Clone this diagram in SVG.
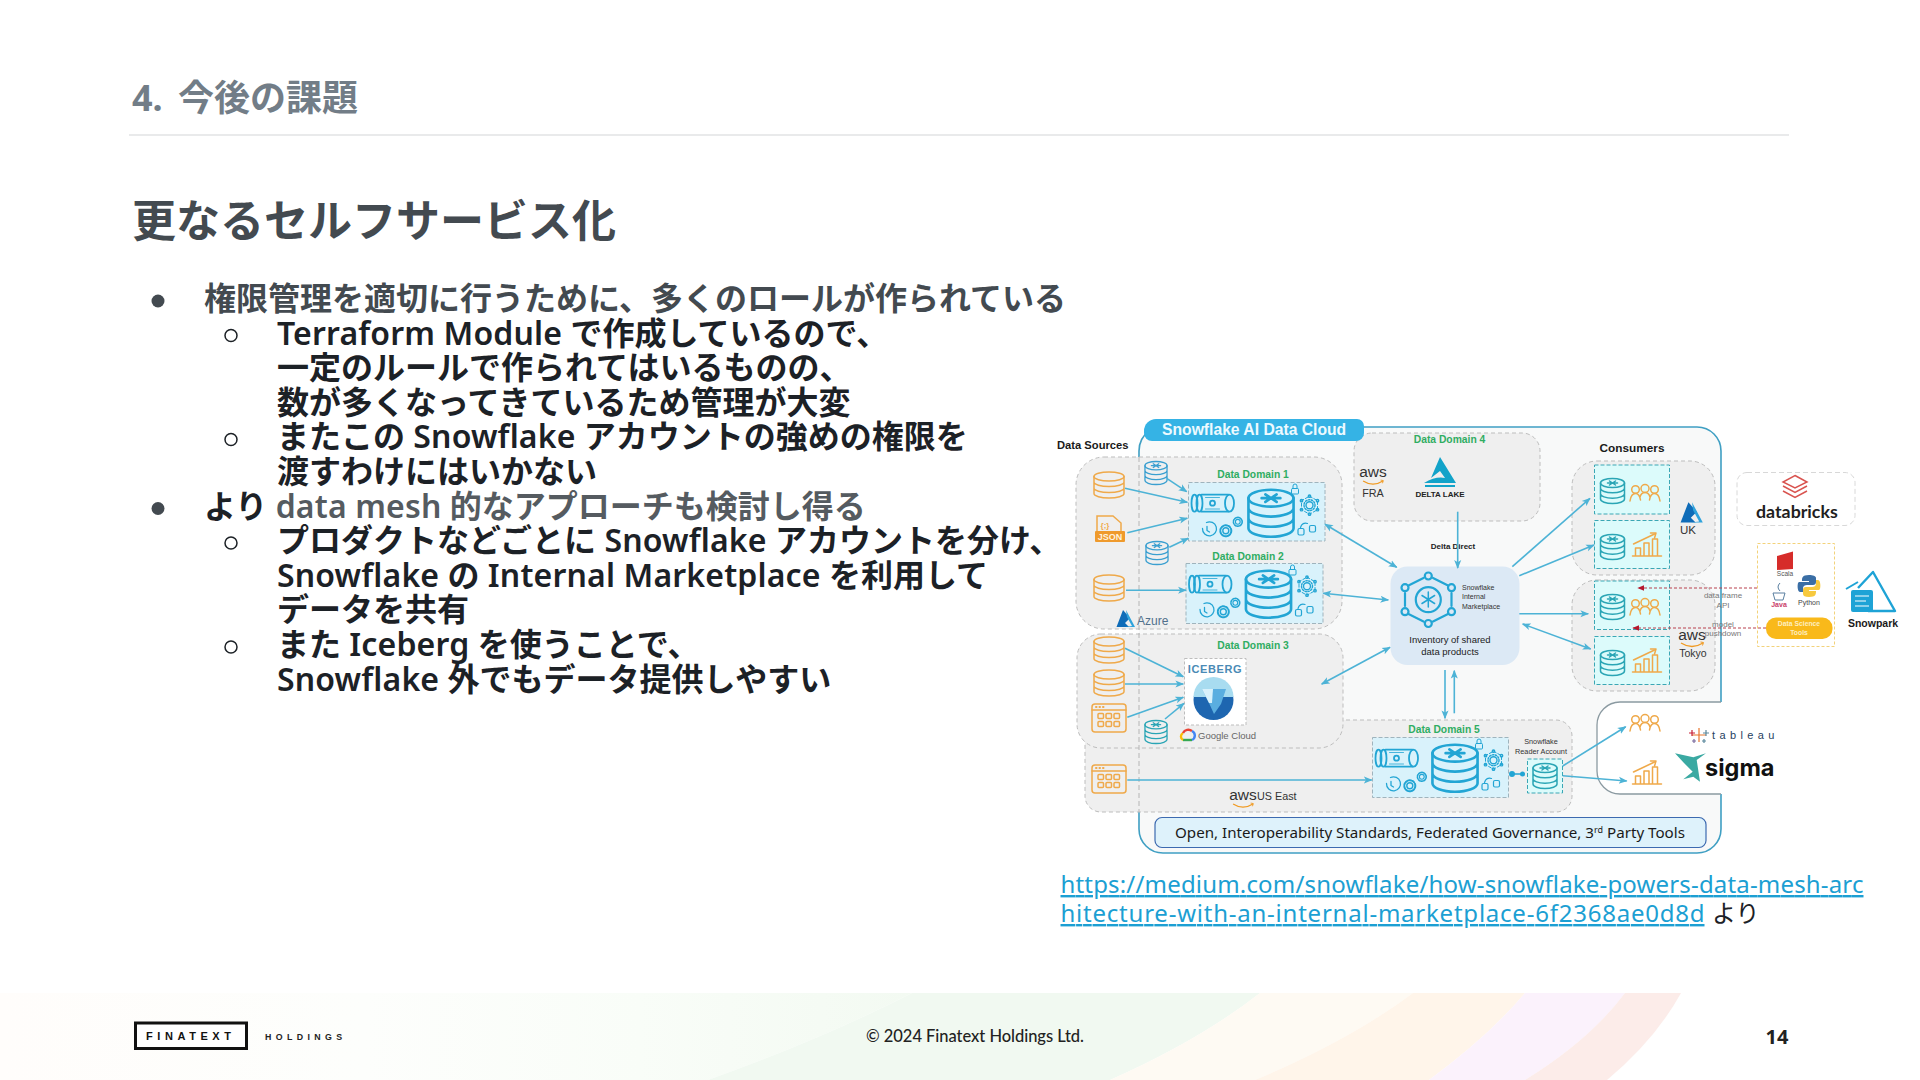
<svg xmlns="http://www.w3.org/2000/svg" width="1920" height="1080" viewBox="0 0 1920 1080">
<style>
text{font-family:"Noto Sans","Noto Sans CJK JP",sans-serif}
.hd{font-family:"Noto Sans","Noto Sans CJK JP",sans-serif;font-weight:700}
.b1{font-size:32px;font-weight:700;fill:#434a50}
.b2{font-size:32px;font-weight:700;fill:#1c2126}
.la{font-weight:600;letter-spacing:.15px}
.lk{font-size:24px;fill:#1c9fd3;text-decoration:underline}
.a{font-family:"Liberation Sans",sans-serif}
.ab{font-family:"Liberation Sans",sans-serif;font-weight:700}
.dd{font-family:"Liberation Sans",sans-serif;font-weight:700;font-size:10.3px;fill:#2fad62;text-anchor:middle}
.m{text-anchor:middle}
.dom{fill:#efefef;stroke:#bdbdbd;stroke-width:1;stroke-dasharray:4 3}
.dr{fill:#d9f2fb;stroke:#9fb4bd;stroke-width:1;stroke-dasharray:4 2}
.cr{fill:#dcfbfb;stroke:#3aa7b5;stroke-width:1;stroke-dasharray:4 2}
.ol{fill:none;stroke-linecap:round;stroke-linejoin:round}
.org{stroke:#efa94a;fill:none;stroke-width:1.5}
.blu{stroke:#3a9fd0;fill:none;stroke-width:1.4}
.tea{stroke:#2aa5b5;fill:none;stroke-width:1.5}
.con line{stroke:#4db3d6;stroke-width:1.6;marker-end:url(#ah)}
.con line.d{marker-start:url(#ah)}
.red{stroke:#b8404f;stroke-width:1;stroke-dasharray:3 2;marker-end:url(#rh)}
</style>
<defs>
<marker id="ah" viewBox="0 0 10 10" refX="9" refY="5" markerWidth="5.5" markerHeight="5.5" orient="auto-start-reverse"><path d="M0 1L10 5L0 9L2.5 5z" fill="#4db3d6"/></marker>
<marker id="rh" viewBox="0 0 10 10" refX="9" refY="5" markerWidth="7" markerHeight="7" orient="auto"><path d="M0 1L10 5L0 9z" fill="#b5182e"/></marker>
<linearGradient id="g0" x1="0" x2="1" y1="0" y2="0"><stop offset="0" stop-color="#fffdfb"/><stop offset=".4" stop-color="#fdfefc"/><stop offset=".7" stop-color="#f9fdf8"/><stop offset="1" stop-color="#f3faf2"/></linearGradient>
<g id="db" class="ol"><ellipse cx="0" cy="-8.5" rx="15" ry="4.5"/><path d="M-15-8.5V8.5A15 4.500 0 0 0 15 8.500V-8.500M-15-3A15 4.500 0 0 0 15-3M-15 3A15 4.500 0 0 0 15 3"/></g>
<g id="sdb" class="ol"><ellipse cx="0" cy="-8" rx="12" ry="4.5"/><path d="M-12-8V8A12 4.500 0 0 0 12 8V-8M-12-2.700A12 4.500 0 0 0 12-2.700M-12 2.700A12 4.500 0 0 0 12 2.700M-5-8H5M-3-10L3-6M-3-6L3-10"/></g>
<g id="people" class="ol"><circle cx="-9.5" cy="-4.5" r="3.8"/><circle cx="0" cy="-5.5" r="4"/><circle cx="9.5" cy="-4.5" r="3.8"/><path d="M-15 7C-14 0-11-.5-9.500-.5C-6-.5-5 3-4.500 6M-5 3C-4-.5-2-1.500 0-1.500C2-1.500 4-.5 5 3M4.500 6C5 3 6-.5 9.500-.5C11-.5 14 0 15 7"/></g>
<g id="chart" class="ol"><path d="M-14 11H15M-11 11V3H-6V11M-2.500 11V-2H2.500V11M6 11V-6H11V11M-13-1L8-11" /><path d="M4-12L9.500-12L8-7" /></g>
<g id="app" class="ol"><rect x="-17" y="-14" width="34" height="28" rx="3"/><path d="M-17-8H17"/><rect x="-11" y="-4.500" width="5.500" height="5" rx="1"/><rect x="-3" y="-4.500" width="5.500" height="5" rx="1"/><rect x="5" y="-4.500" width="5.500" height="5" rx="1"/><rect x="-11" y="3.500" width="5.500" height="5" rx="1"/><rect x="-3" y="3.500" width="5.500" height="5" rx="1"/><rect x="5" y="3.500" width="5.500" height="5" rx="1"/><path d="M-13-11H-12.500M-9.500-11H-9M-6-11H-5.500" stroke-width="2"/></g>
<g id="gear" class="ol"><circle r="3"/><circle r="5.500" stroke-dasharray="2.200 1.300" stroke-width="2"/></g>
<g id="hexg" class="ol"><path d="M0-9L8-4.500V4.500L0 9L-8 4.500V-4.500Z" stroke-width="1" stroke-dasharray="3 2"/><circle r="3.500"/><circle r="5.500" stroke-dasharray="1.500 1.500"/><circle cy="-9" r="1.200"/><circle cy="9" r="1.200"/><circle cx="8" cy="-4.500" r="1.200"/><circle cx="-8" cy="-4.500" r="1.200"/><circle cx="8" cy="4.500" r="1.200"/><circle cx="-8" cy="4.500" r="1.200"/></g>
<g id="domset" class="blu" style="stroke:#22a5d4">
<g class="ol" stroke-width="1.800"><ellipse cx="6" cy="20.700" rx="3" ry="8.500"/><ellipse cx="11" cy="20.700" rx="3" ry="8.500"/><path d="M13 12.200H40M13 29.200H40"/><ellipse cx="41" cy="20.700" rx="4.500" ry="8.500"/><circle cx="24" cy="20.700" r="2.500"/><path d="M17 15H31M17 26.500H31" stroke-width=".8"/></g>
<use href="#sdb" transform="translate(82.500 30.700) scale(1.880)"/>
<g class="ol" stroke-width="1"><rect x="103" y="6" width="7" height="5.500" rx="1"/><path d="M104.500 6V3.500A2 2 0 0 1 108.500 3.500V6"/></g>
<use href="#hexg" transform="translate(121 22.700)"/>
<g class="ol" stroke-width="1.300"><path d="M14 46A7 7 0 1 0 18 40M18.500 44V48L21 49.500"/></g>
<use href="#gear" transform="translate(37.300 48.300)"/>
<use href="#gear" transform="translate(49.300 39.300) scale(.8)"/>
<g class="ol" stroke-width="1.200"><rect x="109.500" y="46" width="6" height="6.500" rx="1.500"/><rect x="121" y="43" width="6" height="6.500" rx="1.500"/><path d="M112 45C113 41 116 40 119 41"/></g>
</g>
<g id="azure"><path d="M-3-9L-9.500 8H3L-1 4L4-1Z" fill="#0f6cb8"/><path d="M0-9L9 8H-1L6 7L1-2Z" fill="#2fa3dc"/></g>
<g id="smile"><path d="M-11 0Q0 7 11 0" fill="none" stroke="#f09a22" stroke-width="1.300"/><path d="M8.500-1L11.500-.5L10.500 2.500" fill="none" stroke="#f09a22" stroke-width="1"/></g>
</defs>

<rect width="1920" height="1080" fill="#ffffff"/>
<g id="footer-band">
<path d="M0 993H912Q820 1040 708 1080H0Z" fill="url(#g0)"/>
<path d="M912 993H1260Q1200 1040 1110 1080H708Q820 1040 912 993Z" fill="#f1f9f1"/>
<path d="M1260 993H1413Q1350 1040 1255 1080H1110Q1200 1040 1260 993Z" fill="#fefaf3"/>
<path d="M1413 993H1525Q1490 1035 1429 1080H1255Q1350 1040 1413 993Z" fill="#fff5ea"/>
<path d="M1525 993H1625Q1590 1040 1525 1080H1429Q1490 1035 1525 993Z" fill="#fbf2fc"/>
<path d="M1625 993H1681Q1655 1040 1607 1080H1525Q1590 1040 1625 993Z" fill="#fcece9"/>
</g>

<g id="heading">
<text class="hd" x="132" y="111" font-size="36" fill="#727d87">4.</text>
<text class="hd" x="178" y="111" font-size="36" fill="#727d87">今後の課題</text>
<line x1="129" y1="135" x2="1789" y2="135" stroke="#e2e3e4" stroke-width="1.500"/>
<text class="hd" x="132" y="237" font-size="44" fill="#434a50">更なるセルフサービス化</text>
</g>
<g id="body">
<circle cx="158" cy="301" r="6.500" fill="#434a50"/>
<text class="b1" x="204" y="310">権限管理を適切に行うために、多くのロールが作られている</text>
<circle cx="231" cy="335.500" r="6" fill="none" stroke="#1c2126" stroke-width="1.500"/>
<text class="b2" x="277" y="344.600"><tspan class="la">Terraform Module</tspan> で作成しているので、</text>
<text class="b2" x="277" y="379.200">一定のルールで作られてはいるものの、</text>
<text class="b2" x="277" y="413.800">数が多くなってきているため管理が大変</text>
<circle cx="231" cy="439.500" r="6" fill="none" stroke="#1c2126" stroke-width="1.500"/>
<text class="b2" x="277" y="448.400">またこの <tspan class="la">Snowflake</tspan> アカウントの強めの権限を</text>
<text class="b2" x="277" y="483">渡すわけにはいかない</text>
<circle cx="158" cy="508.500" r="6.500" fill="#434a50"/>
<text class="b2" x="204" y="517.600">より <tspan class="la" fill="#555b60">data mesh</tspan><tspan fill="#555b60"> 的なアプローチも検討し得る</tspan></text>
<circle cx="231" cy="543" r="6" fill="none" stroke="#1c2126" stroke-width="1.500"/>
<text class="b2" x="277" y="552.200">プロダクトなどごとに <tspan class="la">Snowflake</tspan> アカウントを分け、</text>
<text class="b2" x="277" y="586.800"><tspan class="la">Snowflake</tspan> の <tspan class="la">Internal Marketplace</tspan> を利用して</text>
<text class="b2" x="277" y="621.400">データを共有</text>
<circle cx="231" cy="647" r="6" fill="none" stroke="#1c2126" stroke-width="1.500"/>
<text class="b2" x="277" y="656">また <tspan class="la">Iceberg</tspan> を使うことで、</text>
<text class="b2" x="277" y="690.600"><tspan class="la">Snowflake</tspan> 外でもデータ提供しやすい</text>
</g>

<g id="frame">
<path d="M1164 427H1697a24 24 0 0 1 24 24V702H1620a23 23 0 0 0-23 23V771a23 23 0 0 0 23 23H1721V829a24 24 0 0 1-24 24H1163a24 24 0 0 1-24-24V451a25 25 0 0 1 25-24Z" fill="#f8f9f9"/>
<path d="M1364 427H1697a24 24 0 0 1 24 24V702M1721 794V829a24 24 0 0 1-24 24H1163a24 24 0 0 1-24-24V812M1139 457V451a25 25 0 0 1 10-20" fill="none" stroke="#3f9fc3" stroke-width="1.600"/>
<path d="M1721 702H1620a23 23 0 0 0-23 23V771a23 23 0 0 0 23 23H1721" fill="none" stroke="#8b9aa1" stroke-width="1.300"/>
</g>

<g id="domain5-box"><rect class="dom" x="1085" y="720" width="487" height="92" rx="16"/></g>
<g id="azure-box"><rect class="dom" x="1076" y="457" width="266" height="172" rx="28"/></g>
<g id="gcp-box"><rect class="dom" x="1077" y="634" width="266" height="114" rx="24"/></g>
<g id="domain4-box"><rect class="dom" x="1354" y="433" width="186" height="88" rx="18"/></g>
<g id="uk-box"><rect class="dom" x="1572" y="461" width="143" height="114" rx="25"/></g>
<g id="tokyo-box"><rect class="dom" x="1572" y="580" width="143" height="111" rx="25"/></g>
<line x1="1139" y1="457" x2="1139" y2="812" stroke="#b5b5b5" stroke-width="1" stroke-dasharray="5 3"/>

<g id="title-pill">
<path d="M1156 419H1357a7 7 0 0 1 7 7V433a8 8 0 0 1-8 8H1152a8 8 0 0 1-8-8V431a12 12 0 0 1 12-12Z" fill="#35b3e5"/>
<text class="ab" x="1162" y="435" font-size="15.700" fill="#eefaff">Snowflake AI Data Cloud</text>
</g>
<text id="data-sources" class="ab" x="1057" y="449" font-size="11.200" fill="#1a1a1a">Data Sources</text>

<g id="sources-azure">
<use href="#db" class="org" transform="translate(1109 485)"/>
<g id="json"><path d="M1097 522V516H1113L1121 523V531M1097 522V531" class="org"/><rect x="1095" y="531" width="30" height="11" rx="1" fill="#ef9a2c"/><text class="ab m" x="1110" y="540" font-size="9" fill="#fff3df">JSON</text><text class="ab m" x="1105" y="528" font-size="8" fill="#efa94a">{;}</text></g>
<use href="#db" class="org" transform="translate(1109 588)"/>
<use href="#sdb" class="blu" transform="translate(1156 473) scale(.92)"/>
<use href="#sdb" class="blu" transform="translate(1157 553) scale(.92)"/>
</g>
<g id="data-domain-1"><text class="dd" x="1253" y="478">Data Domain 1</text><rect class="dr" x="1188.500" y="482.500" width="136.500" height="58.500"/><use href="#domset" transform="translate(1188.500 482.500)"/></g>
<g id="data-domain-2"><text class="dd" x="1248" y="560">Data Domain 2</text><rect class="dr" x="1186" y="563.500" width="137" height="60"/><use href="#domset" transform="translate(1186 563.500)"/></g>
<g id="azure-label"><use href="#azure" transform="translate(1126 619)"/><text class="a" x="1137" y="625" font-size="12" fill="#51708c">Azure</text></g>

<g id="data-domain-3"><text class="dd" x="1253" y="649">Data Domain 3</text>
<use href="#db" class="org" transform="translate(1109 650)"/>
<use href="#db" class="org" transform="translate(1109 683)"/>
<use href="#app" class="org" transform="translate(1109 718)"/>
<use href="#sdb" class="blu" transform="translate(1156 732) scale(.92) " style="stroke:#2aa5b5"/>
<rect x="1184.500" y="658.500" width="61.500" height="66.500" fill="#ffffff" stroke="#bdbdbd" stroke-dasharray="3 2"/>
<text class="ab m" x="1215" y="673" font-size="11" letter-spacing=".6" fill="#4a8ab5">ICEBERG</text>
<circle cx="1213.500" cy="700" r="20" fill="#1e66b0"/>
<path d="M1193.500 697A20 20 0 0 1 1233.500 697Z" fill="#a8dcf0"/>
<path d="M1202 689H1226L1221 704L1214 714L1209 703Z" fill="#5aaee0"/>
<path d="M1202 689H1213L1212 703L1209 703Z" fill="#d8f1fb"/>
<g id="gcloud" fill="none" stroke-width="2.400"><path d="M1183 740H1192" stroke="#34a853"/><path d="M1183 740A4 4 0 0 1 1183 733" stroke="#fbbc05"/><path d="M1183 733A6 6 0 0 1 1192 731" stroke="#ea4335"/><path d="M1192 731A5 5 0 0 1 1192 740" stroke="#4285f4"/></g>
<text class="a" x="1198" y="739" font-size="9.500" fill="#666">Google Cloud</text>
</g>

<g id="data-domain-4"><text class="dd" x="1449.500" y="443">Data Domain 4</text>
<text class="a m" x="1373" y="477" font-size="15.500" fill="#333">aws</text>
<use href="#smile" transform="translate(1373 481) scale(.9)"/>
<text class="a m" x="1373" y="497" font-size="10.800" fill="#333">FRA</text>
<path d="M1440 457L1456 483H1424Q1436 476 1445 478L1440 471L1431 478Z" fill="#12a3c9"/>
<path d="M1425 486H1455" stroke="#12a3c9" stroke-width="2"/>
<text class="ab m" x="1440" y="497" font-size="8" fill="#222">DELTA LAKE</text>
</g>

<g id="inventory">
<rect x="1390.500" y="566.500" width="129" height="98.500" rx="17" fill="#dce9f5"/>
<g class="ol" stroke="#22a5d4" stroke-width="2.200" fill="none">
<circle cx="1428.300" cy="599.700" r="12.500"/><path d="M1428.300 592V607M1422 595.500L1434.600 603.500M1422 603.500L1434.600 595.500" stroke-width="1.500"/>
<circle cx="1428.300" cy="576" r="3.500"/><circle cx="1428.300" cy="623.500" r="3.500"/><circle cx="1405" cy="587.700" r="3.500"/><circle cx="1451.500" cy="587.700" r="3.500"/><circle cx="1405" cy="611.700" r="3.500"/><circle cx="1451.500" cy="611.700" r="3.500"/>
<path d="M1408.500 585.500L1423.500 578M1433 578L1448 585.500M1451.500 593V606M1448 614L1433 621.500M1423.500 621.500L1408.500 614M1405 606V593"/>
</g>
<text class="a" x="1462" y="589.500" font-size="7" fill="#333">Snowflake</text>
<text class="a" x="1462" y="599" font-size="7" fill="#333">Internal</text>
<text class="a" x="1462" y="608.500" font-size="7" fill="#333">Marketplace</text>
<text class="a m" x="1450" y="643" font-size="9.500" fill="#222">Inventory of shared</text>
<text class="a m" x="1450" y="654.500" font-size="9.500" fill="#222">data products</text>
</g>
<text id="delta-direct" class="ab m" x="1453" y="549" font-size="8" fill="#222">Delta Direct</text>

<g id="data-domain-5"><text class="dd" x="1444" y="733">Data Domain 5</text>
<rect class="dr" x="1372.500" y="737.500" width="136" height="60"/><use href="#domset" transform="translate(1372.500 737.500)"/>
<use href="#app" class="org" transform="translate(1109 779)"/>
<g id="aws-useast"><text class="a m" x="1243" y="800" font-size="15.500" fill="#333">aws</text><use href="#smile" transform="translate(1243 804) scale(.9)"/><text class="a" x="1257" y="800" font-size="10.800" fill="#333">US East</text></g>
</g>
<g id="reader-account">
<text class="a m" x="1541" y="744" font-size="7.300" fill="#333">Snowflake</text>
<text class="a m" x="1541" y="754" font-size="7.300" fill="#333">Reader Account</text>
<rect class="cr" x="1527.500" y="759" width="35" height="34"/>
<use href="#sdb" class="tea" transform="translate(1545 776)"/>
<path d="M1512 774H1522" stroke="#22a5d4" stroke-width="1.500"/><circle cx="1512" cy="774" r="3" fill="#22a5d4"/><circle cx="1522.500" cy="774" r="2.500" fill="#22a5d4"/>
</g>

<text id="consumers" class="ab m" x="1632" y="452" font-size="11.800" fill="#1a1a1a">Consumers</text>
<g id="consumer-uk">
<rect class="cr" x="1594.500" y="465" width="75" height="49"/><use href="#sdb" class="tea" transform="translate(1612.500 491)"/><use href="#people" class="org" transform="translate(1645 494)"/>
<rect class="cr" x="1594.500" y="520.500" width="75" height="48"/><use href="#sdb" class="tea" transform="translate(1612.500 547)"/><use href="#chart" class="org" transform="translate(1646.500 545)"/>
<use href="#azure" transform="translate(1692 513) scale(1.200)"/><text class="a" x="1680" y="534" font-size="11.500" fill="#333">UK</text>
</g>
<g id="consumer-tokyo">
<rect class="cr" x="1594.500" y="581" width="75" height="48.500"/><use href="#sdb" class="tea" transform="translate(1612.500 607)"/><use href="#people" class="org" transform="translate(1645 608)"/>
<rect class="cr" x="1594.500" y="636.500" width="75" height="48"/><use href="#sdb" class="tea" transform="translate(1612.500 663)"/><use href="#chart" class="org" transform="translate(1646.500 661)"/>
<text class="a m" x="1692" y="640" font-size="15.500" fill="#333">aws</text><use href="#smile" transform="translate(1692 643) scale(1)"/><text class="a m" x="1693" y="657" font-size="10.500" fill="#333">Tokyo</text>
</g>
<g id="bi-tools">
<use href="#people" class="org" transform="translate(1645 724)"/>
<use href="#chart" class="org" transform="translate(1646.500 773)"/>
<g stroke-width="1.200"><path d="M1699 728V742M1692 735H1706" stroke="#e8762d"/><path d="M1692 730V736M1689 733H1695" stroke="#c72037"/><path d="M1706 730V736M1703 733H1709" stroke="#5b879b"/><path d="M1694 739V743M1692 741H1696" stroke="#7b6a9e"/><path d="M1704 739V743M1702 741H1706" stroke="#59879b"/></g>
<text class="a" x="1712" y="739" font-size="11" letter-spacing="4.400" fill="#26425f">tableau</text>
<path d="M1675 753.300L1693.300 757.300L1706 753.300L1696.700 760L1700 781.700L1693.300 776.700L1683.300 779.300L1692.700 771.700L1684 763Z" fill="#3aa9a2"/>
<text x="1705" y="776" font-size="23.500" font-weight="700" style="font-family:Inter,sans-serif" fill="#111">sigma</text>
</g>

<g id="databricks">
<rect x="1737" y="472.500" width="118" height="53" rx="10" fill="#fff" stroke="#d8d8d8" stroke-dasharray="5 3"/>
<g fill="none" stroke="#d9534f" stroke-width="1.500"><path d="M1795 475.500L1807 482L1795 488L1783 482Z"/><path d="M1783 486L1795 492.500L1807 486"/><path d="M1783 491L1795 497.500L1807 491"/></g>
<text x="1756" y="518" font-size="17.800" font-weight="700" style="font-family:Lato,sans-serif" fill="#1f1f1f">databricks</text>
</g>
<g id="data-science-tools">
<rect x="1757.500" y="543.500" width="77" height="103" fill="#fff" stroke="#f3d27a" stroke-dasharray="3 2"/>
<path d="M1777 556L1793 551.500V557L1777 561.500ZM1777 561.500L1793 557V563L1777 567.500ZM1777 566L1793 563V569L1777 570Z" fill="#d62c2a"/>
<text class="a m" x="1785" y="576" font-size="6.500" fill="#555">Scala</text>
<path d="M1773 593H1785L1783 600H1775ZM1780 583Q1776 587 1780 591" fill="none" stroke="#5a7fa0" stroke-width="1"/>
<text class="ab m" x="1779" y="607" font-size="7" fill="#c9406a">Java</text>
<path d="M1809 575C1802 575 1802 578 1802 581H1809V582H1799C1797 582 1797 592 1800 592H1803V588C1803 586 1805 585 1807 585H1813C1815 585 1816 584 1816 582V578C1816 576 1813 575 1809 575Z" fill="#3a6ea5"/>
<path d="M1809 597C1816 597 1816 594 1816 591H1809V590H1819C1821 590 1821 580 1818 580H1816V584C1816 586 1814 587 1812 587H1806C1804 587 1803 588 1803 590V594C1803 596 1805 597 1809 597Z" fill="#f7c93e"/>
<text class="a m" x="1809" y="605" font-size="7" fill="#444">Python</text>
<rect x="1766" y="617.500" width="66.500" height="21.500" rx="10" fill="#f9b91a"/>
<text class="ab m" x="1799" y="626" font-size="6.800" fill="#fdeec0">Data Science</text>
<text class="ab m" x="1799" y="635" font-size="6.800" fill="#fdeec0">Tools</text>
</g>
<g id="snowpark">
<path d="M1858 588L1873 572L1895 611H1868" fill="none" stroke="#1ea3d6" stroke-width="2.400" stroke-linejoin="round"/>
<path d="M1846 589L1858 582" stroke="#1ea3d6" stroke-width="2"/>
<rect x="1851" y="590" width="22" height="22" rx="2" fill="#1ea3d6"/>
<path d="M1855 596H1869M1855 601H1866M1855 606H1869" stroke="#fff" stroke-width="1"/>
<text class="ab m" x="1873" y="627" font-size="10.500" fill="#1a1a1a">Snowpark</text>
</g>

<g id="connectors" class="con">
<line x1="1166.700" y1="478.300" x2="1186.700" y2="491.700"/>
<line x1="1125" y1="488.300" x2="1187.300" y2="502.300"/>
<line x1="1127.300" y1="532.700" x2="1187.300" y2="518.300"/>
<line x1="1169.300" y1="547.300" x2="1188.300" y2="538.300"/>
<line x1="1126" y1="590.300" x2="1186" y2="590.300"/>
<line class="d" x1="1325" y1="524.300" x2="1396.700" y2="567.300"/>
<line class="d" x1="1323.300" y1="593.300" x2="1388.300" y2="600"/>
<line x1="1457.700" y1="511.700" x2="1457.700" y2="568"/>
<line x1="1125" y1="648.300" x2="1183.300" y2="676.700"/>
<line x1="1125" y1="684" x2="1183.300" y2="684"/>
<line x1="1127.300" y1="717.300" x2="1183.300" y2="697.300"/>
<line x1="1165" y1="719" x2="1184" y2="703.300"/>
<line class="d" x1="1321.700" y1="684" x2="1390" y2="647.300"/>
<line x1="1445" y1="670" x2="1445" y2="718.300"/>
<line x1="1454.300" y1="713.300" x2="1454.300" y2="670.700"/>
<line x1="1127.300" y1="780" x2="1371.700" y2="780"/>
<line x1="1512.300" y1="566.700" x2="1590" y2="498.300"/>
<line x1="1519.300" y1="575.700" x2="1594" y2="545"/>
<line x1="1519.300" y1="613.700" x2="1588.300" y2="613.700"/>
<line class="d" x1="1522.700" y1="624" x2="1590.700" y2="649"/>
<line x1="1562.700" y1="766" x2="1625.700" y2="726.700"/>
<line x1="1562.700" y1="775.700" x2="1626.700" y2="781"/>
<path class="red" d="M1757 588H1638" fill="none" style="stroke-width:1"/>
<path class="red" d="M1766 628H1633" fill="none" style="stroke-width:1"/>
</g>
<g id="connector-labels" fill="#777">
<text class="a m" x="1723" y="598" font-size="8">data frame</text>
<text class="a m" x="1723" y="607.500" font-size="8">API</text>
<text class="a m" x="1723" y="626.500" font-size="8">model</text>
<text class="a m" x="1723" y="636" font-size="8">pushdown</text>
</g>

<g id="standards-bar">
<rect x="1155" y="817.500" width="551" height="30" rx="7" fill="#def2fb" stroke="#3d6ab0" stroke-width="1.200"/>
<text x="1175" y="838" font-size="15.150" fill="#1a1a1a">Open, Interoperability Standards, Federated Governance, 3<tspan font-size="9" dy="-5">rd</tspan><tspan dy="5"> Party Tools</tspan></text>
</g>

<g id="link">
<text class="lk" x="1060.500" y="893" textLength="803" lengthAdjust="spacing">https://medium.com/snowflake/how-snowflake-powers-data-mesh-arc</text>
<text class="lk" x="1060.500" y="922" textLength="644" lengthAdjust="spacing">hitecture-with-an-internal-marketplace-6f2368ae0d8d</text>
<text x="1712" y="922" font-size="24" fill="#1c2126">より</text>
</g>

<g id="footer">
<rect x="135.500" y="1023" width="111" height="25.500" fill="#fff" stroke="#111" stroke-width="3"/>
<text class="ab" x="146" y="1040" font-size="11" letter-spacing="6" textLength="91" fill="#111">FINATEXT</text>
<text class="ab" x="265" y="1039.500" font-size="8.800" textLength="77" fill="#222">HOLDINGS</text>
<text x="866" y="1041.500" font-size="16.500" font-weight="500" textLength="218" style="font-family:Lato,sans-serif" fill="#222">© 2024 Finatext Holdings Ltd.</text>
<text class="m" x="1777" y="1044" font-size="20" font-weight="700" fill="#222">14</text>
</g>
</svg>
